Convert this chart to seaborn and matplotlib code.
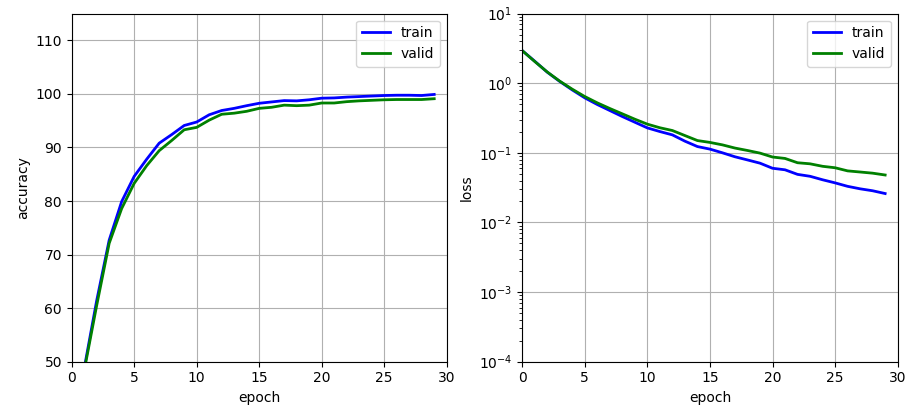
import matplotlib
matplotlib.use("Agg")
import matplotlib.pyplot as plt
import seaborn as sns
import numpy as np

epochs = list(range(30))

train_acc = [30.0, 48.7, 61.4, 72.7, 79.9, 84.6, 87.8, 90.8, 92.4, 94.1,
             94.75, 96.1, 96.9, 97.3, 97.8, 98.25, 98.5, 98.75, 98.7, 98.9,
             99.2, 99.25, 99.4, 99.5, 99.6, 99.7, 99.75, 99.75, 99.7, 99.9]
valid_acc = [31.0, 48.3, 60.5, 72.1, 78.6, 83.3, 86.6, 89.4, 91.3, 93.3,
             93.75, 95.1, 96.2, 96.4, 96.75, 97.3, 97.5, 97.9, 97.8, 97.9,
             98.3, 98.3, 98.55, 98.7, 98.8, 98.9, 98.95, 98.95, 98.95, 99.1]

train_loss = [2.94, 2.07, 1.44, 1.06, 0.80, 0.616, 0.494, 0.405, 0.332, 0.275,
              0.228, 0.202, 0.181, 0.147, 0.123, 0.113, 0.100, 0.0877, 0.079, 0.071,
              0.060, 0.057, 0.049, 0.046, 0.041, 0.037, 0.033, 0.0304, 0.0285, 0.026]
valid_loss = [2.94, 2.05, 1.45, 1.07, 0.82, 0.643, 0.522, 0.433, 0.363, 0.304,
              0.258, 0.229, 0.209, 0.177, 0.150, 0.141, 0.130, 0.117, 0.108, 0.099,
              0.087, 0.083, 0.072, 0.0695, 0.064, 0.061, 0.055, 0.053, 0.051, 0.048]

fig = plt.figure(figsize=(9.05, 4.11), dpi=100)
ax1 = fig.add_axes([0.0792, 0.12, 0.4144, 0.847])
ax2 = fig.add_axes([0.577, 0.12, 0.4149, 0.847])

# accuracy
sns.lineplot(x=epochs, y=train_acc, ax=ax1, color="blue", linewidth=2, label="train")
sns.lineplot(x=epochs, y=valid_acc, ax=ax1, color="green", linewidth=2, label="valid")
ax1.set_xlim(0, 30)
ax1.set_ylim(50, 115)
ax1.set_yticks(np.arange(50, 111, 10))
ax1.set_xlabel("epoch")
ax1.set_ylabel("accuracy")
ax1.grid(True)
ax1.legend(loc="upper right")

# loss
sns.lineplot(x=epochs, y=train_loss, ax=ax2, color="blue", linewidth=2, label="train")
sns.lineplot(x=epochs, y=valid_loss, ax=ax2, color="green", linewidth=2, label="valid")
ax2.set_yscale("log")
ax2.set_xlim(0, 30)
ax2.set_ylim(1e-4, 10)
ax2.set_xlabel("epoch")
ax2.set_ylabel("loss")
ax2.grid(True)
ax2.legend(loc="upper right")

fig.savefig("out.png", dpi=100)
plt.close(fig)
